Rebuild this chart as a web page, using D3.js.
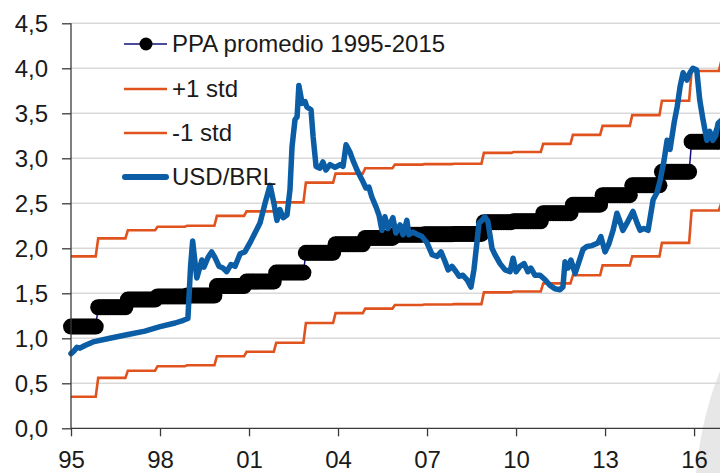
<!DOCTYPE html>
<html>
<head>
<meta charset="utf-8">
<script src="https://cdnjs.cloudflare.com/ajax/libs/d3/7.8.5/d3.min.js"></script>
<style>
html,body{margin:0;padding:0;background:#fff;}
svg{display:block;font-family:"Liberation Sans",Arial,sans-serif;}
</style>
</head>
<body>
<svg id="chart" width="720" height="473"></svg>
<script>
// ---- DATA ----
// Annual step levels: each level starts in the given month (changes every December)
const levelStarts = ["1995-01","1995-12","1996-12","1997-12","1998-12","1999-12","2000-12","2001-12","2002-12","2003-12","2004-12","2005-12","2006-12","2007-12","2008-12","2009-12","2010-12","2011-12","2012-12","2013-12","2014-12","2015-12","2016-12"];
const ppaValues   = [1.13,1.345,1.43,1.465,1.475,1.58,1.63,1.73,1.95,2.045,2.115,2.15,2.155,2.16,2.29,2.30,2.39,2.485,2.59,2.70,2.85,3.185,3.29];
const plusStd     = [1.91,2.11,2.20,2.24,2.25,2.36,2.41,2.51,2.73,2.83,2.89,2.93,2.935,2.94,3.06,3.07,3.16,3.26,3.36,3.48,3.64,3.97,4.08];
const minusStd    = [0.35,0.56,0.64,0.69,0.70,0.80,0.85,0.95,1.17,1.28,1.33,1.37,1.375,1.38,1.51,1.52,1.61,1.70,1.81,1.91,2.06,2.42,2.50];
const seriesEndMonth = "2017-02";

// USD/BRL exchange rate (decimal year, value)
const usdYears = [1995.00,1995.10,1995.20,1995.30,1995.47,1995.74,1996.31,1996.88,1997.49,1998.00,1998.51,1998.79,1998.94,1999.03,1999.10,1999.24,1999.31,1999.41,1999.48,1999.62,1999.74,1999.85,1999.99,2000.12,2000.25,2000.39,2000.53,2000.70,2000.86,2001.03,2001.20,2001.37,2001.54,2001.71,2001.84,2001.94,2002.04,2002.15,2002.28,2002.38,2002.45,2002.55,2002.62,2002.68,2002.79,2002.89,2002.95,2003.09,2003.16,2003.26,2003.39,2003.49,2003.59,2003.73,2003.90,2004.07,2004.17,2004.27,2004.40,2004.50,2004.64,2004.81,2004.94,2005.04,2005.14,2005.28,2005.38,2005.48,2005.58,2005.68,2005.85,2005.95,2006.09,2006.19,2006.32,2006.39,2006.53,2006.70,2006.83,2007.00,2007.17,2007.34,2007.47,2007.61,2007.71,2007.84,2007.98,2008.08,2008.21,2008.35,2008.48,2008.58,2008.68,2008.75,2008.85,2008.95,2009.05,2009.19,2009.29,2009.46,2009.63,2009.80,2009.90,2010.00,2010.13,2010.27,2010.40,2010.50,2010.64,2010.81,2010.98,2011.14,2011.31,2011.48,2011.58,2011.65,2011.75,2011.85,2011.99,2012.12,2012.26,2012.39,2012.56,2012.76,2012.86,2013.00,2013.13,2013.27,2013.40,2013.50,2013.60,2013.77,2013.94,2014.08,2014.18,2014.31,2014.45,2014.62,2014.75,2014.86,2014.99,2015.09,2015.19,2015.33,2015.43,2015.53,2015.63,2015.76,2015.86,2015.96,2016.09,2016.19,2016.29,2016.43,2016.53,2016.63,2016.73,2016.81,2016.91];
const usdValues = [0.83,0.86,0.90,0.89,0.92,0.96,1.00,1.04,1.08,1.13,1.17,1.20,1.22,1.80,2.08,1.67,1.75,1.87,1.79,1.90,1.96,1.90,1.80,1.78,1.74,1.82,1.80,1.94,1.96,2.06,2.17,2.28,2.50,2.70,2.50,2.31,2.43,2.34,2.37,2.65,3.13,3.43,3.46,3.81,3.61,3.63,3.57,3.54,3.24,2.91,2.89,2.96,2.87,2.93,2.90,2.93,2.91,3.15,3.07,2.98,2.87,2.76,2.67,2.68,2.57,2.46,2.37,2.20,2.35,2.22,2.34,2.17,2.26,2.15,2.31,2.15,2.18,2.15,2.13,2.06,1.93,1.91,1.96,1.85,1.76,1.80,1.74,1.69,1.70,1.65,1.57,1.76,2.06,2.28,2.31,2.35,2.30,2.00,1.93,1.83,1.76,1.74,1.89,1.74,1.80,1.83,1.74,1.78,1.70,1.70,1.65,1.59,1.55,1.54,1.57,1.85,1.78,1.87,1.72,1.85,1.99,2.02,2.03,2.06,2.13,1.96,2.05,2.20,2.39,2.30,2.20,2.30,2.41,2.28,2.20,2.22,2.20,2.54,2.62,2.76,2.98,3.20,3.10,3.40,3.57,3.80,3.95,3.87,3.95,4.00,3.98,3.65,3.45,3.20,3.30,3.20,3.25,3.39,3.42];

const yTicks = [0,0.5,1,1.5,2,2.5,3,3.5,4,4.5];
const xTickYears = [1995,1998,2001,2004,2007,2010,2013,2016];
const legendLabels = ["PPA promedio 1995-2015","+1 std","-1 std","USD/BRL"];

// ---- LAYOUT ----
const svg = d3.select("#chart");
const x = d3.scaleLinear().domain([1995, 2017]).range([71, 71 + 22 * 29.67]);
const y = d3.scaleLinear().domain([0, 4.5]).range([428.3, 23.3]);
const plotRight = 720;
const orange = "#E0531E", blue = "#0B5DA5", navy = "#10107a";

// background grey shape at bottom right
svg.append("path")
  .attr("d", "M722,366 C710,395 700,430 696,473 L722,473 Z")
  .attr("fill", "#e7e7e7");

// gridlines
svg.append("g").selectAll("line").data(yTicks.filter(d => d > 0)).join("line")
  .attr("x1", 71).attr("x2", plotRight)
  .attr("y1", d => y(d)).attr("y2", d => y(d))
  .attr("stroke", "#d9d9d9").attr("stroke-width", 1.5);

// build monthly step series
function monthIndex(s){ const [yy,mm] = s.split("-").map(Number); return yy*12 + (mm-1); }
const endIdx = monthIndex(seriesEndMonth);
function monthlySteps(values){
  const out = [];
  for (let i = 0; i < levelStarts.length; i++){
    const a = monthIndex(levelStarts[i]);
    const b = i + 1 < levelStarts.length ? monthIndex(levelStarts[i+1]) : endIdx + 1;
    for (let m = a; m < b; m++) out.push({t: m/12, v: values[i]});
  }
  return out;
}
const ppaM = monthlySteps(ppaValues), upM = monthlySteps(plusStd), loM = monthlySteps(minusStd);

svg.append("defs").append("clipPath").attr("id","clip")
  .append("rect").attr("x", 55).attr("y", 0).attr("width", plotRight - 55).attr("height", 473);

const line = d3.line().x(d => x(d.t)).y(d => y(d.v));
const g = svg.append("g").attr("clip-path","url(#clip)");

// PPA: markers + thin navy line
g.append("path").datum(ppaM).attr("d", line).attr("fill","none").attr("stroke", navy).attr("stroke-width",1.5);
g.append("g").selectAll("circle").data(ppaM).join("circle")
  .attr("cx", d => x(d.t)).attr("cy", d => y(d.v)).attr("r", 8).attr("fill","#000");

// std bands
g.append("path").datum(upM).attr("d", line).attr("fill","none").attr("stroke", orange).attr("stroke-width",2.6);
g.append("path").datum(loM).attr("d", line).attr("fill","none").attr("stroke", orange).attr("stroke-width",2.6);

// USD/BRL
const usd = usdYears.map((t,i) => ({t, v: usdValues[i]}));
g.append("path").datum(usd).attr("d", line).attr("fill","none").attr("stroke", blue)
  .attr("stroke-width",5.5).attr("stroke-linejoin","round").attr("stroke-linecap","round");

// axes
const axisColor = "#3a3a3a";
svg.append("line").attr("x1",71).attr("x2",71).attr("y1",y(4.5)).attr("y2",y(0)).attr("stroke",axisColor).attr("stroke-width",1.3);
svg.append("line").attr("x1",71).attr("x2",plotRight).attr("y1",y(0)).attr("y2",y(0)).attr("stroke",axisColor).attr("stroke-width",1.3);

const yAxis = d3.axisLeft(y).tickValues(yTicks).tickSize(9).tickPadding(14)
  .tickFormat(d => d3.format(".1f")(d).replace(".", ","));
const ya = svg.append("g").attr("transform","translate(71,0)").call(yAxis);
ya.select(".domain").remove();
ya.selectAll(".tick line").attr("stroke", axisColor).attr("stroke-width",1.3);
ya.selectAll(".tick text").attr("font-size",24).attr("fill","#1a1a1a").attr("font-family","Liberation Sans, Arial, sans-serif").attr("dy","0.35em");

const xAxis = d3.axisBottom(x).tickValues(xTickYears).tickSize(8).tickPadding(15)
  .tickFormat(d => String(d % 100).padStart(2,"0"));
const xa = svg.append("g").attr("transform",`translate(0,${y(0)})`).call(xAxis);
xa.select(".domain").remove();
xa.selectAll(".tick line").attr("stroke", axisColor).attr("stroke-width",1.3);
xa.selectAll(".tick text").attr("font-size",24).attr("fill","#1a1a1a").attr("font-family","Liberation Sans, Arial, sans-serif");

// legend
const legY = [44, 89, 133, 177];
const lg = svg.append("g");
legendLabels.forEach((lab, i) => {
  const yy = legY[i];
  if (i === 0){
    lg.append("line").attr("x1",124).attr("x2",167).attr("y1",yy).attr("y2",yy).attr("stroke",navy).attr("stroke-width",1.5);
    lg.append("circle").attr("cx",146).attr("cy",yy).attr("r",6.5).attr("fill","#000");
  } else if (i < 3){
    lg.append("line").attr("x1",124).attr("x2",167).attr("y1",yy).attr("y2",yy).attr("stroke",orange).attr("stroke-width",2.6);
  } else {
    lg.append("line").attr("x1",125).attr("x2",166).attr("y1",yy).attr("y2",yy).attr("stroke",blue).attr("stroke-width",6).attr("stroke-linecap","round");
  }
  lg.append("text").attr("x",172).attr("y",yy).attr("dy","0.35em").attr("font-size",24).attr("fill","#1a1a1a").text(lab);
});
</script>
</body>
</html>
